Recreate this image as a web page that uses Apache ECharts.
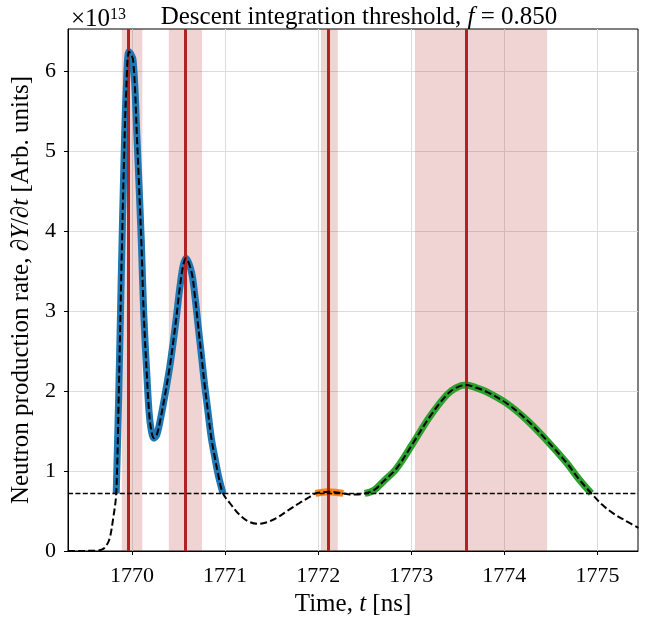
<!DOCTYPE html>
<html>
<head>
<meta charset="utf-8">
<script src="https://cdn.jsdelivr.net/npm/echarts@6/dist/echarts.min.js"></script>
<style>
  html, body { margin: 0; padding: 0; background: #fff; }
  #chart { width: 648px; height: 621px; }
</style>
</head>
<body>
<div id="chart"></div>
<script>
// neutron production rate (units of 1e13)
const time = [
  1769.31, 1769.45, 1769.55, 1769.62, 1769.68, 1769.72, 1769.76, 1769.795, 1769.83,
  1769.857, 1769.885, 1769.914, 1769.939, 1769.968, 1770.011, 1770.054, 1770.1,
  1770.125, 1770.161, 1770.183, 1770.205, 1770.236, 1770.265, 1770.297, 1770.351,
  1770.405, 1770.44, 1770.477, 1770.512, 1770.548, 1770.578, 1770.638, 1770.674,
  1770.709, 1770.745, 1770.78, 1770.816, 1770.852, 1770.888, 1770.93, 1770.977,
  1771.05, 1771.157, 1771.25, 1771.353, 1771.45, 1771.55, 1771.68, 1771.8,
  1771.9, 1771.97, 1772.05, 1772.105, 1772.18, 1772.27, 1772.32, 1772.4,
  1772.5, 1772.6, 1772.7, 1772.84, 1773.02, 1773.2, 1773.38, 1773.48,
  1773.585, 1773.7, 1773.81, 1774.02, 1774.24, 1774.45, 1774.67, 1774.8,
  1774.935, 1775.05, 1775.17, 1775.3, 1775.44
];
const rate = [
  0.0, 0.001, 0.002, 0.005, 0.02, 0.06, 0.16, 0.39, 0.72,
  1.95, 3.47, 4.9, 5.8, 6.24, 6.14, 5.14, 3.86,
  2.99, 2.16, 1.74, 1.52, 1.41, 1.45, 1.6, 1.93,
  2.3, 2.59, 2.93, 3.28, 3.56, 3.66, 3.49, 3.2,
  2.83, 2.45, 2.075, 1.74, 1.41, 1.18, 0.93, 0.72,
  0.6, 0.45, 0.37, 0.34, 0.36, 0.41, 0.51, 0.6,
  0.67, 0.72, 0.735, 0.74, 0.735, 0.72, 0.71, 0.705,
  0.72, 0.76, 0.87, 1.03, 1.35, 1.68, 1.95, 2.04,
  2.075, 2.04, 1.99, 1.85, 1.64, 1.39, 1.1, 0.9,
  0.72, 0.58, 0.47, 0.38, 0.29
];
const threshold = 0.72;

// integrated regions above threshold
const segStart = [1769.83, 1771.97, 1772.5];
const segEnd = [1770.977, 1772.27, 1774.935];
const segColors = ['#1f77b4', '#ff7f0e', '#2ca02c'];

// peak times and their widths
const peakTimes = [1769.965, 1770.574, 1772.11, 1773.59];
const spanStart = [1769.89, 1770.395, 1772.03, 1773.04];
const spanEnd = [1770.11, 1770.752, 1772.21, 1774.46];

const xTicks = [1770, 1771, 1772, 1773, 1774, 1775];
const yTicks = [0, 1, 2, 3, 4, 5, 6];

const serif = 'Liberation Serif';
const curve = time.map((t, i) => [t, rate[i]]);
const italic = { fontFamily: serif, fontSize: 25, fontStyle: 'italic', color: '#000' }

const chart = echarts.init(document.getElementById('chart'));

const segSeries = segStart.map((s, k) => ({
    type: 'line',
    data: curve.filter(p => p[0] >= s && p[0] <= segEnd[k]),
    smooth: 0.35,
    showSymbol: false,
    lineStyle: { color: segColors[k], width: 7, cap: 'butt' },
    z: 2,
    silent: true
}))

chart.setOption({
    animation: false,
    backgroundColor: '#fff',
    title: [
        {
            text: '{a|×10}{s|13}',
            left: 66,
            top: 2,
            textStyle: {
                rich: {
                    a: { fontFamily: serif, fontSize: 25, fontWeight: 'normal', color: '#000' },
                    s: { fontFamily: serif, fontSize: 16, fontWeight: 'normal', color: '#000', verticalAlign: 'top' }
                }
            }
        },
        {
            text: 'Descent integration threshold, {i|f} = 0.850',
            left: 354,
            textAlign: 'center',
            top: 0,
            textStyle: {
                fontFamily: serif, fontSize: 25, fontWeight: 'normal', color: '#000',
                rich: { i: italic }
            }
        }
    ],
    grid: {
        left: 68, right: 10, top: 29, bottom: 70,
        containLabel: false,
        outerBoundsMode: 'none',
        show: true,
        borderColor: '#000',
        borderWidth: 1
    },
    xAxis: {
        type: 'value',
        min: 1769.312,
        max: 1775.436,
        name: 'Time, {i|t} [ns]',
        nameLocation: 'middle',
        nameGap: 41,
        nameTextStyle: { fontFamily: serif, fontSize: 25, color: '#000', rich: { i: italic } },
        axisLine: { lineStyle: { color: '#000', width: 1 } },
        axisTick: { customValues: xTicks, length: 4, lineStyle: { color: '#000' } },
        axisLabel: {
            customValues: xTicks, fontFamily: serif, fontSize: 22, color: '#000', margin: 14,
            formatter: v => String(v)
        },
        splitLine: { show: true, lineStyle: { color: '#dcdcdc', width: 1 } }
    },
    yAxis: {
        type: 'value',
        min: 0,
        max: 6.525,
        name: 'Neutron production rate, ∂{i|Y}/∂{i|t} [Arb. units]',
        nameLocation: 'middle',
        nameGap: 29,
        nameTextStyle: { fontFamily: serif, fontSize: 25, color: '#000', rich: { i: italic } },
        axisLine: { show: true, lineStyle: { color: '#000', width: 1 } },
        axisTick: { show: true, customValues: yTicks, length: 4, lineStyle: { color: '#000' } },
        axisLabel: { customValues: yTicks, fontFamily: serif, fontSize: 22, color: '#000', margin: 12 },
        splitLine: { show: true, lineStyle: { color: '#dcdcdc', width: 1 } }
    },
    series: [
        {
            // shaded peak widths
            type: 'line',
            data: [],
            z: 1,
            silent: true,
            markArea: {
                silent: true,
                itemStyle: { color: 'rgba(178,34,34,0.2)' },
                data: spanStart.map((s, i) => [{ xAxis: s }, { xAxis: spanEnd[i] }])
            }
        },
        ...segSeries,
        {
            // peak markers
            type: 'line',
            data: [],
            z: 3,
            silent: true,
            markLine: {
                silent: true,
                symbol: 'none',
                label: { show: false },
                lineStyle: { color: '#b22222', width: 3, type: 'solid' },
                data: peakTimes.map(t => ({ xAxis: t }))
            }
        },
        {
            name: 'rate',
            type: 'line',
            data: curve,
            smooth: 0.35,
            showSymbol: false,
            lineStyle: { color: '#000', width: 2, type: [7, 3.2] },
            z: 5,
            silent: true,
            markLine: {
                silent: true,
                symbol: 'none',
                label: { show: false },
                lineStyle: { color: '#000', width: 1.3, type: [5, 2.4] },
                data: [{ yAxis: threshold }]
            }
        }
    ]
})
</script>
</body>
</html>
